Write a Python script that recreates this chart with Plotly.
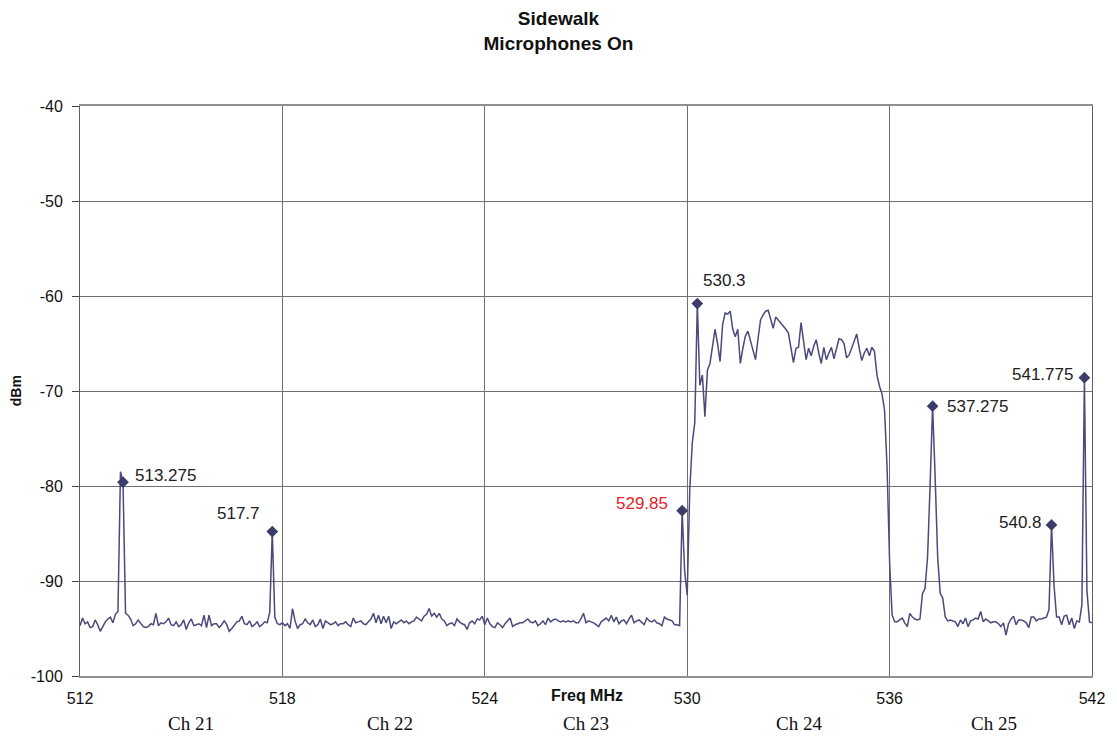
import plotly.graph_objects as go

# ---------------- data ----------------
start_mhz = 512.0
step_mhz = 0.075
level_dbm = [
    -94.7, -93.9, -94.5, -94.3, -94.9, -94.8, -94.1, -94.6, -95.3, -94.8,
    -94.3, -94.0, -93.8, -94.4, -93.5, -93.2, -78.5, -79.6, -93.4, -93.6,
    -94.0, -94.7, -94.5, -94.1, -94.4, -94.8, -94.9, -94.8, -94.5, -94.6,
    -93.4, -94.7, -94.4, -94.5, -94.3, -93.9, -94.6, -94.7, -94.3, -94.8,
    -94.6, -94.1, -95.1, -94.4, -94.0, -94.7, -94.6, -94.5, -94.7, -93.6,
    -94.9, -93.6, -94.7, -94.5, -94.5, -94.9, -94.6, -94.2, -94.6, -95.3,
    -95.0, -94.7, -94.3, -94.2, -93.7, -94.5, -94.6, -94.2, -94.8, -94.6,
    -94.3, -94.8, -94.6, -94.3, -94.4, -93.3, -84.8, -93.8, -94.5, -94.6,
    -94.4, -94.7, -94.5, -95.0, -92.9, -94.2, -95.0, -94.6, -94.5, -94.0,
    -94.4, -94.6, -94.1, -94.8, -94.6, -94.0, -95.0, -94.2, -94.4, -94.6,
    -94.5, -94.3, -94.7, -94.5, -94.5, -94.3, -94.6, -94.8, -93.9, -94.4,
    -94.3, -94.2, -94.5, -94.6, -94.3, -94.0, -93.4, -94.4, -93.6, -94.5,
    -93.7, -94.4, -93.7, -95.0, -94.3, -94.5, -94.3, -94.1, -94.4, -94.2,
    -94.5, -94.3, -94.2, -93.8, -94.0, -94.2, -93.7, -93.5, -92.9, -93.7,
    -93.4, -93.8, -93.4, -94.0, -94.2, -94.7, -94.5, -94.4, -94.7, -94.0,
    -94.3, -94.5, -94.6, -95.1, -94.4, -94.2, -94.5, -94.0, -94.1, -93.7,
    -94.6, -93.9, -94.5, -94.8, -94.9, -94.4, -94.6, -94.9, -94.5, -94.2,
    -93.9, -94.8, -94.6, -94.5, -94.4, -94.4, -94.2, -94.0, -94.3, -94.4,
    -94.2, -94.7, -94.5, -94.2, -94.6, -93.9, -94.3, -94.1, -94.0, -94.2,
    -94.3, -94.2, -94.3, -94.2, -94.3, -94.2, -94.4, -94.4, -94.0, -93.4,
    -94.4, -94.2, -94.3, -94.4, -94.6, -94.8, -94.3, -94.1, -93.9, -94.2,
    -93.6, -94.3, -93.8, -94.5, -94.2, -94.1, -94.5, -94.0, -93.6, -94.4,
    -94.2, -94.1, -94.4, -94.6, -93.9, -94.2, -94.3, -94.1, -94.4, -94.5,
    -94.7, -93.8, -94.0, -94.1, -94.2, -94.6, -94.6, -94.7, -82.6, -89.0,
    -91.5, -80.5, -75.5, -73.3, -60.8, -69.4, -68.3, -72.7, -67.8, -67.1,
    -65.5, -63.5, -65.0, -66.9, -63.0, -61.8, -61.9, -61.6, -63.5, -64.3,
    -63.5, -67.1, -65.5, -64.2, -63.7, -64.8, -65.8, -66.7, -64.5, -62.5,
    -62.0, -61.6, -61.5, -62.5, -63.4, -62.2, -62.5, -62.8, -63.2, -63.5,
    -63.9, -65.5, -67.0, -65.5, -65.4, -62.8, -64.5, -66.7, -65.5, -66.3,
    -65.3, -64.6, -66.0, -67.1, -65.4, -66.7, -66.0, -65.4, -66.6, -65.5,
    -64.5, -64.6, -65.0, -66.5, -66.2, -65.5, -64.8, -64.0, -65.5, -66.8,
    -66.0, -65.5, -66.3, -65.4, -65.8, -68.3, -69.5, -70.3, -72.0, -78.0,
    -88.0, -93.6, -94.3, -94.3, -94.1, -93.9, -94.4, -94.8, -93.4, -93.8,
    -94.0, -94.1, -94.0, -91.3, -90.8, -87.5, -80.0, -71.6, -79.0, -87.5,
    -91.3, -91.8, -93.8, -94.2, -94.1, -94.2, -94.3, -94.8, -94.1, -94.5,
    -93.9, -94.8, -94.2, -94.1, -93.9, -94.0, -93.2, -94.3, -94.0, -94.2,
    -94.4, -94.3, -94.3, -94.5, -94.8, -94.4, -95.7, -94.5, -94.0, -93.7,
    -94.6, -94.1, -94.1, -94.2, -94.4, -94.9, -93.8, -93.8, -94.2, -94.0,
    -94.0, -93.9, -93.8, -93.0, -84.1, -90.5, -93.8, -93.8, -94.6, -93.7,
    -93.6, -94.6, -93.9, -95.0, -94.2, -94.3, -92.5, -68.6, -91.0, -94.3,
    -94.4,
]
freq_mhz = [round(start_mhz + step_mhz * i, 3) for i in range(len(level_dbm))]

marker_freq = [513.275, 517.7, 529.85, 530.3, 537.275, 540.8, 541.775]
marker_dbm = [-79.6, -84.8, -82.6, -60.8, -71.6, -84.1, -68.6]
marker_text = ["513.275", "517.7", "529.85", "530.3", "537.275", "540.8", "541.775"]

x_ticks = [512, 518, 524, 530, 536, 542]
y_ticks = [-100, -90, -80, -70, -60, -50, -40]
channel_labels = ["Ch 21", "Ch 22", "Ch 23", "Ch 24", "Ch 25"]
channel_pos = [515.3, 521.2, 527.0, 533.3, 539.1]

# ---------------- styles ----------------
LINE_COLOR = "#4a4a7c"
MARK_COLOR = "#3c3c6a"
FONT = "Liberation Sans, Arial, sans-serif"
label_style = [  # (xanchor, xshift, yshift, color)
    ("left", 10, 7, "#222"),
    ("right", -10, 18, "#222"),
    ("right", -12, 7, "#e8202a"),
    ("left", 4, 23, "#222"),
    ("left", 12, 0, "#222"),
    ("right", -8, 2, "#222"),
    ("right", -9, 3, "#222"),
]

fig = go.Figure()
fig.add_trace(go.Scatter(
    x=freq_mhz, y=level_dbm, mode="lines",
    line=dict(color=LINE_COLOR, width=1.5),
    hoverinfo="skip", showlegend=False,
))
fig.add_trace(go.Scatter(
    x=marker_freq, y=marker_dbm, mode="markers",
    marker=dict(symbol="diamond", size=9, color=MARK_COLOR),
    showlegend=False,
))

annotations = []
for fx, fy, t, st in zip(marker_freq, marker_dbm, marker_text, label_style):
    xa, xs, ys, col = st
    annotations.append(dict(
        x=fx, y=fy, xref="x", yref="y", text=t, showarrow=False,
        xanchor=xa, yanchor="middle", xshift=xs, yshift=ys,
        font=dict(family=FONT, size=17, color=col),
    ))
for lab, pos in zip(channel_labels, channel_pos):
    annotations.append(dict(
        x=pos, y=-0.084, xref="x", yref="paper", text=lab, showarrow=False,
        xanchor="center", yanchor="middle",
        font=dict(family="Liberation Serif, Times New Roman, serif", size=19, color="#111"),
    ))
annotations.append(dict(
    x=527.03, y=-0.034, xref="x", yref="paper", text="<b>Freq MHz</b>",
    showarrow=False, xanchor="center", yanchor="middle",
    font=dict(family=FONT, size=16, color="#111"),
))
annotations.append(dict(
    x=-0.063, y=0.5, xref="paper", yref="paper", text="<b>dBm</b>",
    showarrow=False, textangle=-90, xanchor="center", yanchor="middle",
    font=dict(family=FONT, size=14, color="#111"),
))

fig.update_layout(
    width=1117, height=740,
    margin=dict(l=80, r=23, t=106, b=64),
    paper_bgcolor="white", plot_bgcolor="white",
    title=dict(
        text="<b>Sidewalk</b><br><b>Microphones On</b>",
        x=0.5, xanchor="center", y=1 - 25 / 740, yanchor="middle", yref="container",
        font=dict(family=FONT, size=19, color="#111"),
    ),
    annotations=annotations,
    font=dict(family=FONT, size=16, color="#111"),
)
fig.update_xaxes(
    range=[512, 542], tickvals=x_ticks, ticktext=[str(v) for v in x_ticks],
    showgrid=True, gridcolor="#707070", gridwidth=1,
    showline=True, linecolor="#909090", linewidth=2, mirror=True,
    ticks="outside", ticklen=7, tickcolor="rgba(0,0,0,0)",
    tickfont=dict(family=FONT, size=16, color="#111"), zeroline=False,
)
fig.update_yaxes(
    range=[-100, -40], tickvals=y_ticks, ticktext=[str(v) for v in y_ticks],
    showgrid=True, gridcolor="#707070", gridwidth=1,
    showline=True, linecolor="#606060", linewidth=1, mirror=True,
    ticks="outside", ticklen=7, tickcolor="#444",
    ticklabelstandoff=6,
    tickfont=dict(family=FONT, size=16, color="#111"), zeroline=False,
)

fig.write_html("out.html", config={"displayModeBar": False},
               post_script="document.body.style.margin='0';")
